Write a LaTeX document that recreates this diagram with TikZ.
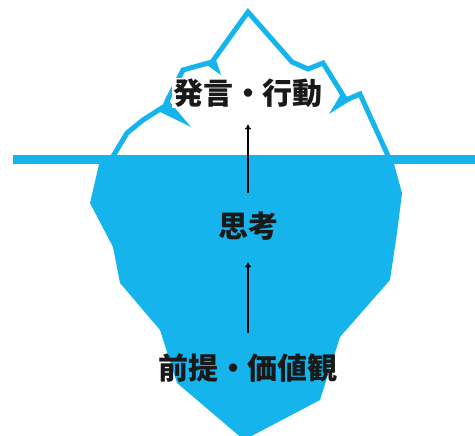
\documentclass[tikz,border=0pt]{standalone}
\usepackage{fontspec}
\newfontfamily\jpfont{Noto Sans CJK JP}
\usetikzlibrary{arrows.meta}
\definecolor{ice}{RGB}{22,180,236}
\tikzset{
  label/.style={font=\jpfont\bfseries\fontsize{30pt}{31pt}\selectfont, text=black!90, inner sep=1pt},
  rim/.style={draw=ice, line width=5pt, line join=miter, line cap=round},
  crack/.style={fill=ice, draw=none},
  flow/.style={draw=black, line width=1.2pt, -{To[length=5pt,width=6pt]}}
}
\begin{document}
\begin{tikzpicture}[x=1pt,y=-1pt]
  \useasboundingbox (0,0) rectangle (475,436);
  % submerged body of the berg
  \fill[ice] (100,160) -- (90,203) -- (113,247) -- (120,283) -- (160,330)
    -- (177,383) -- (244,440) -- (320,400) -- (340,337) -- (390,280)
    -- (397,233) -- (402,193) -- (393,160) -- cycle;
  % outline of the tip above water
  \draw[rim] (112,158) -- (127,133) -- (143,120) -- (165,106) -- (168,99)
    -- (183,70) -- (212,62) -- (248,12) -- (292,62) -- (308,69) -- (323,63)
    -- (346,100) -- (360,94) -- (389,158);
  % cracks running into the ice
  \fill[crack] (156,110) -- (169,101) -- (191,127) -- cycle;
  \fill[crack] (204,63) -- (216,60) -- (221,75) -- cycle;
  \fill[crack] (341,94) -- (353,99) -- (329,114) -- cycle;
  % water line
  \draw[draw=ice, line width=9pt] (13,160) -- (475,160);
  % labels
  \node[label, fill=white] (act) at (248,93) {発言・行動};
  \node[label] (think) at (248,226) {思考};
  \node[label] (value) at (248,368) {前提・価値観};
  % arrows
  \draw[flow] ([yshift=18pt]think.north) -- ([yshift=-16pt]act.south);
  \draw[flow] ([yshift=19pt]value.north) -- ([yshift=-21pt]think.south);
\end{tikzpicture}
\end{document}
